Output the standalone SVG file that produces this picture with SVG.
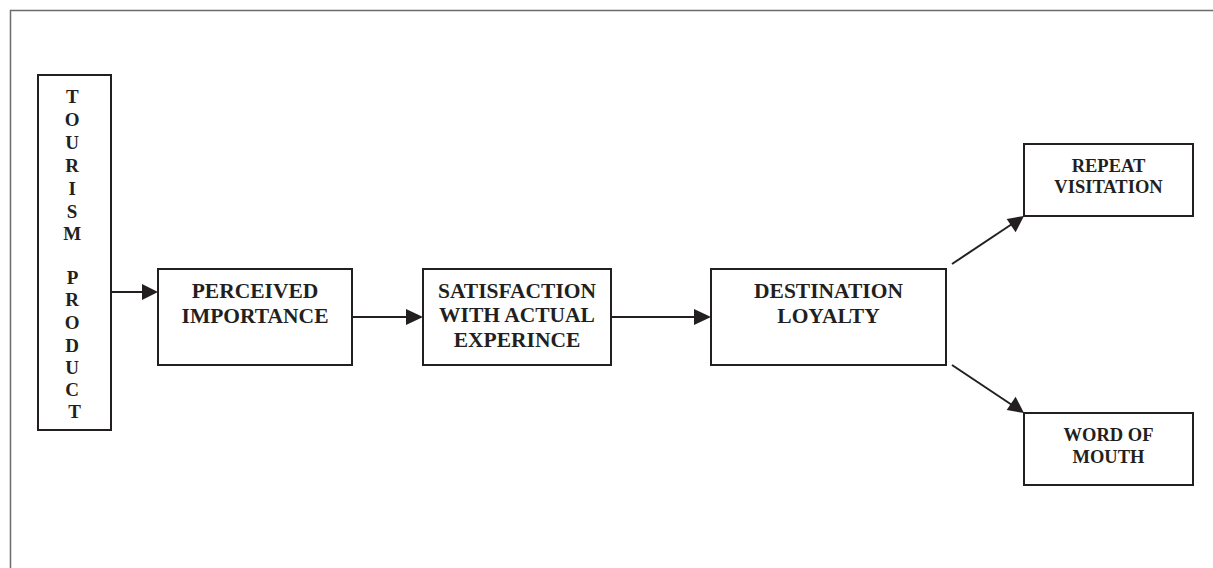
<svg xmlns="http://www.w3.org/2000/svg" width="1213" height="568" viewBox="0 0 1213 568">
<style>
.box{fill:#fff;stroke:#231f20;stroke-width:2}
.t{font-family:"Liberation Serif","Times New Roman",serif;font-weight:bold;fill:#231f20;text-anchor:middle}
.big{font-size:21.5px}
.col{font-size:19px}
.small{font-size:18.5px}
.ln{stroke:#231f20;stroke-width:2;fill:none}
.hd{fill:#231f20}
</style>
<rect width="1213" height="568" fill="#fff"/>
<path d="M10.5,568 L10.5,10.5 L1213,10.5" fill="none" stroke="#6b6b6b" stroke-width="1.5"/>
<g id="connectors">
<line class="ln" x1="111" y1="292" x2="144" y2="292"/>
<path class="hd" d="M142,284 L158,292 L142,300 z"/>
<line class="ln" x1="352" y1="317" x2="408" y2="317"/>
<path class="hd" d="M406,309 L423,317 L406,325 z"/>
<line class="ln" x1="611" y1="317" x2="696" y2="317"/>
<path class="hd" d="M694,309 L711,317 L694,325 z"/>
<line class="ln" x1="952" y1="264" x2="1012" y2="224"/>
<path class="hd" d="M1024,216 L1015.6,232.2 L1006.7,218.9 z"/>
<line class="ln" x1="952" y1="365" x2="1012" y2="405"/>
<path class="hd" d="M1024,413 L1006.7,410.1 L1015.6,396.8 z"/>
</g>
<g id="tourism-product">
<rect class="box" x="38" y="75" width="73" height="355"/>
<text class="t col">
<tspan x="74.5" y="103">T</tspan>
<tspan x="74.5" y="126">O</tspan>
<tspan x="74.5" y="149">U</tspan>
<tspan x="74.5" y="172">R</tspan>
<tspan x="74.5" y="195">I</tspan>
<tspan x="74.5" y="218">S</tspan>
<tspan x="74.5" y="240">M</tspan>
<tspan x="74.5" y="284">P</tspan>
<tspan x="74.5" y="306">R</tspan>
<tspan x="74.5" y="329">O</tspan>
<tspan x="74.5" y="352">D</tspan>
<tspan x="74.5" y="374">U</tspan>
<tspan x="74.5" y="396">C</tspan>
<tspan x="74.5" y="418">T</tspan>
</text>
</g>
<g id="perceived-importance">
<rect class="box" x="158" y="269" width="194" height="96"/>
<text class="t big"><tspan x="255" y="298">PERCEIVED</tspan><tspan x="255" y="323">IMPORTANCE</tspan></text>
</g>
<g id="satisfaction">
<rect class="box" x="423" y="269" width="188" height="96"/>
<text class="t big"><tspan x="517" y="298">SATISFACTION</tspan><tspan x="517" y="322">WITH ACTUAL</tspan><tspan x="517" y="347">EXPERINCE</tspan></text>
</g>
<g id="destination-loyalty">
<rect class="box" x="711" y="269" width="235" height="96"/>
<text class="t big"><tspan x="828.5" y="298">DESTINATION</tspan><tspan x="828.5" y="323">LOYALTY</tspan></text>
</g>
<g id="repeat-visitation">
<rect class="box" x="1024" y="144" width="169" height="72"/>
<text class="t small"><tspan x="1108.5" y="172">REPEAT</tspan><tspan x="1108.5" y="193">VISITATION</tspan></text>
</g>
<g id="word-of-mouth">
<rect class="box" x="1024" y="413" width="169" height="72"/>
<text class="t small"><tspan x="1108.5" y="441">WORD OF</tspan><tspan x="1108.5" y="463">MOUTH</tspan></text>
</g>
</svg>
